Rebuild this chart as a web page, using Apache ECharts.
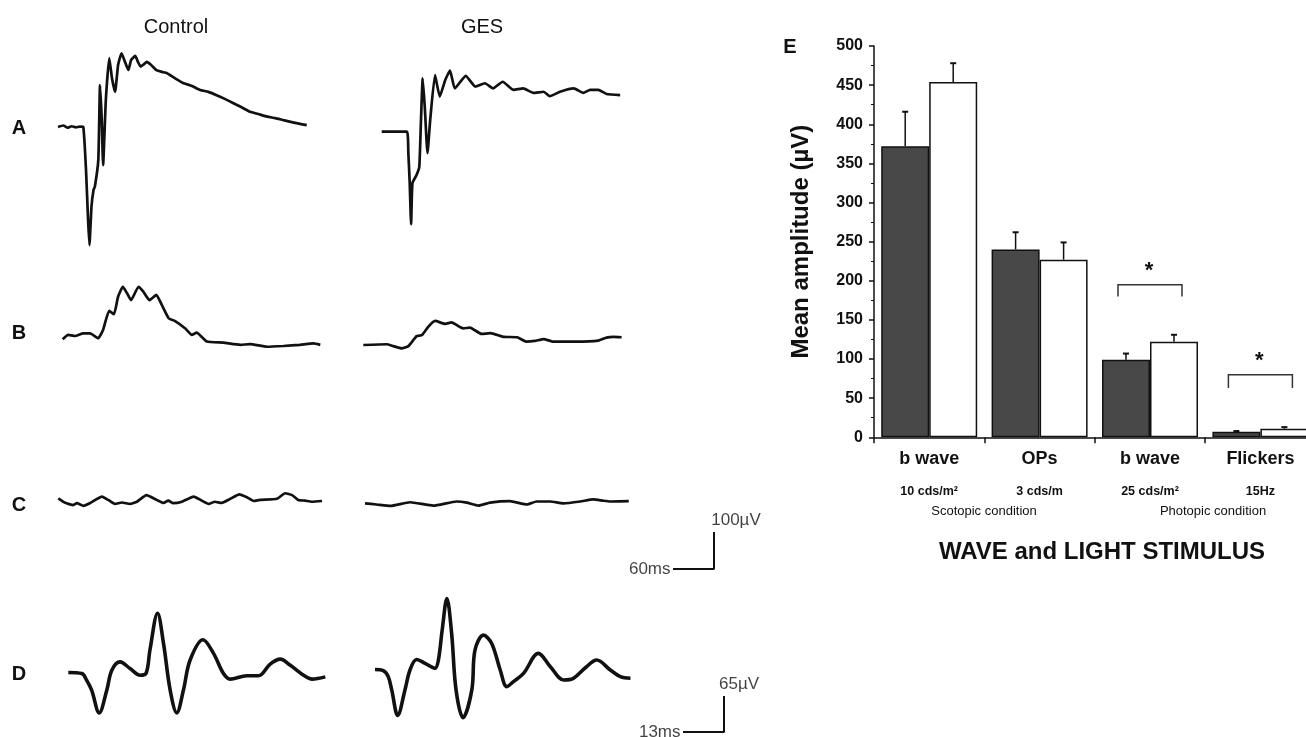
<!DOCTYPE html>
<html>
<head>
<meta charset="utf-8">
<script src="https://cdn.jsdelivr.net/npm/echarts@6/dist/echarts.min.js"></script>
<style>
  html, body { margin: 0; padding: 0; background: #fff; }
  #main { width: 1306px; height: 737px; }
</style>
</head>
<body>
<div id="main"></div>
<script>
// ERG traces: [time (ms) from trace start, amplitude (µV) from baseline]
var ctrlA = [[0,0],[8,4],[14,-2],[20,2],[26,-1],[32,1],[37,0],[41,-116],[44,-251],[46,-319],[49,-215],[52,-170],[54,-161],[59,-89],[61.5,113],[64,20],[66,-103],[70,73],[75,186],[79,132],[83.5,95],[88,168],[93,199],[98,176],[103,154],[107,181],[113,192],[117,176],[121,163],[126,170],[130,176],[136,168],[144,154],[152,149],[159,146],[171,132],[183,119],[196,111],[208,100],[220,95],[232,86],[244,76],[256,65],[268,54],[281,41],[293,35],[306,28],[318,24],[329,19],[347,11],[364,5]];
var gesA = [[0,0],[20,0],[37,0],[39,-58],[41,-139],[43,-250],[45,-139],[51,-117],[55,-95],[57.5,32],[60,144],[63,68],[67,-58],[71,32],[78,153],[85,95],[93,140],[100,165],[107,117],[123,151],[137,122],[151,131],[163,117],[177,135],[193,113],[207,117],[222,105],[237,108],[246,96],[261,108],[281,117],[295,105],[305,113],[317,113],[329,102],[349,99]];
var ctrlB = [[0,-9],[8,3],[18,0],[30,7],[40,7],[52,-6],[59,16],[68,68],[75,59],[81,106],[88,133],[94,116],[100,97],[111,133],[118,120],[127,97],[137,111],[145,84],[155,48],[164,41],[179,21],[189,3],[196,9],[211,-15],[235,-18],[260,-24],[274,-22],[299,-29],[323,-27],[347,-24],[367,-20],[377,-24]];
var gesB = [[0,0],[34,2],[44,-3],[56,-9],[66,-3],[78,24],[86,27],[95,49],[105,65],[120,57],[129,61],[146,45],[156,47],[173,30],[186,32],[205,22],[225,21],[239,9],[251,11],[264,16],[278,9],[312,9],[344,12],[356,20],[366,22],[378,21]];
var ctrlC = [[0,7],[10,-5],[22,-11],[27,-6],[37,-13],[46,-6],[64,12],[73,3],[83,-8],[93,-4],[105,-8],[115,-2],[129,16],[144,3],[154,-5],[161,1],[168,-6],[181,-2],[198,12],[210,1],[220,-8],[229,-2],[239,-5],[251,5],[265,18],[276,10],[286,0],[295,3],[320,6],[332,21],[342,16],[351,3],[361,1],[371,-2],[386,0]];
var gesC = [[0,-1],[17,-4],[37,-8],[66,2],[100,-7],[134,4],[149,1],[166,-7],[183,1],[212,5],[237,-4],[251,4],[271,4],[290,-1],[315,4],[334,10],[349,6],[359,4],[386,5]];
var ctrlD = [[0,1],[4.3,-1],[5.8,-13],[7.4,-31],[9.8,-72],[12.2,-31],[13.8,5],[16.4,20],[19.6,8],[22.8,-4],[24.7,0],[25.9,42],[28.3,108],[30.2,53],[32.3,-31],[34.4,-72],[36.5,-31],[38.6,23],[42.7,60],[46,36],[49.2,-1],[51.3,-11],[56.6,-5],[60.3,-5],[64,16],[67.2,25],[70.4,14],[74.6,-4],[77.3,-11],[81.5,-7]];
var gesD = [[0,1],[2.6,-1],[4.2,-12],[5.3,-36],[7.2,-82],[9.5,-36],[11.1,0],[13.2,19],[15.9,12],[19,3],[20.1,18],[21.3,72],[22.8,129],[24.3,66],[25.7,-36],[27.9,-86],[30.7,-36],[31.7,36],[34.4,63],[37,48],[39.7,0],[41.8,-30],[43.9,-21],[47.1,-6],[51.8,30],[55.6,6],[59.8,-18],[62.9,-15],[66.7,4],[70.3,18],[74.6,0],[77.8,-12],[81,-15]];

// scale bars [ms, µV]
var scaleAC = [60, 100];
var scaleD = [13, 65];

// panel E
var categories = ['b wave', 'OPs', 'b wave', 'Flickers'];
var stimulus = ['10 cds/m²', '3 cds/m', '25 cds/m²', '15Hz'];
var controlMean = [372, 240, 99, 7];
var controlSem = [44, 22, 8, 1];
var gesMean = [454, 227, 122, 11];
var gesSem = [24, 22, 9, 2];
var sigGroups = [2, 3];
var sigTop = [195, 80];
var sigLeg = [180, 63];

var FONT = 'Liberation Sans, Arial, sans-serif';
var INK = '#111';

// px per ms / px per µV
var AC = {kx: 41 / 60, ky: 37 / 100};
var DS = {kx: 41 / 13, ky: 36 / 65};

// grid where the value origin (0,0) lands on pixel (x0, y0)
function makeGrid(x0, y0, s, xmin, xmax, ymin, ymax) {
  return {
    grid: {left: x0 + xmin * s.kx, top: y0 - ymax * s.ky,
           width: (xmax - xmin) * s.kx, height: (ymax - ymin) * s.ky,
           outerBoundsMode: 'none'},
    xmin: xmin, xmax: xmax, ymin: ymin, ymax: ymax
  };
}

var traces = [
  {data: ctrlA, g: makeGrid(58, 127, AC, 0, 400, -350, 250), w: 2.7},
  {data: gesA, g: makeGrid(381.7, 131.7, AC, 0, 400, -350, 250), w: 2.7},
  {data: ctrlB, g: makeGrid(62.7, 336, AC, 0, 400, -120, 160), w: 2.7},
  {data: gesB, g: makeGrid(363.3, 345, AC, 0, 400, -120, 160), w: 2.7},
  {data: ctrlC, g: makeGrid(58.3, 501, AC, 0, 400, -60, 60), w: 2.7},
  {data: gesC, g: makeGrid(365, 503, AC, 0, 400, -60, 60), w: 2.7},
  {data: ctrlD, g: makeGrid(68.3, 673, DS, 0, 90, -100, 140), w: 3.6},
  {data: gesD, g: makeGrid(375, 670, DS, 0, 90, -100, 140), w: 3.6}
];
var bars1 = makeGrid(714, 569, AC, -80, 10, -10, 130);
var bars2 = makeGrid(724, 732, DS, -20, 5, -5, 80);

var grids = [], xAxes = [], yAxes = [], series = [];
function addGrid(g) {
  var i = grids.length;
  grids.push(g.grid);
  xAxes.push({type: 'value', gridIndex: i, min: g.xmin, max: g.xmax, show: false});
  yAxes.push({type: 'value', gridIndex: i, min: g.ymin, max: g.ymax, show: false});
  return i;
}

traces.forEach(function (t) {
  var i = addGrid(t.g);
  series.push({
    type: 'line', xAxisIndex: i, yAxisIndex: i, data: t.data,
    symbol: 'none', smooth: t.w > 3 ? 0.35 : 0.15, clip: false,
    lineStyle: {color: INK, width: t.w}
  });
});

function scaleBar(g, sc, offTop) {
  var i = addGrid(g);
  series.push({
    type: 'line', xAxisIndex: i, yAxisIndex: i, symbol: 'none', clip: false,
    data: [[-sc[0], 0], [0, 0], [0, sc[1]]],
    lineStyle: {color: INK, width: 2}
  });
  series.push({
    type: 'scatter', xAxisIndex: i, yAxisIndex: i, symbolSize: 1,
    itemStyle: {color: 'rgba(0,0,0,0)'},
    label: {show: true, color: INK, fontFamily: FONT, fontSize: 17},
    data: [
      {value: [-sc[0], 0], label: {position: 'left', distance: 2, formatter: sc[0] + 'ms'}},
      {value: [0, sc[1]], label: {position: 'top', distance: 3, offset: [offTop, 0], formatter: sc[1] + 'µV'}}
    ]
  });
}
scaleBar(bars1, scaleAC, 22);
scaleBar(bars2, scaleD, 15);

// panel E bar chart
var bi = grids.length;
grids.push({left: 874, top: 46, width: 441.6, height: 391.3, outerBoundsMode: 'none'});
xAxes.push({
  type: 'category', gridIndex: bi, data: categories,
  axisLine: {lineStyle: {color: INK, width: 1.5}},
  axisTick: {show: true, length: 6, lineStyle: {color: INK, width: 1.5}},
  axisLabel: {
    margin: 10, fontFamily: FONT, color: INK,
    formatter: function (v, i) { return '{a|' + v + '}\n{b|' + stimulus[i] + '}'; },
    rich: {
      a: {fontSize: 18, fontWeight: 'bold', lineHeight: 24, fontFamily: FONT, color: INK},
      b: {fontSize: 12.5, fontWeight: 'bold', lineHeight: 40, fontFamily: FONT, color: INK}
    }
  }
});
yAxes.push({
  type: 'value', gridIndex: bi, min: 0, max: 500, interval: 50,
  name: 'Mean amplitude (µV)', nameLocation: 'middle', nameGap: 61, nameRotate: 90,
  nameTextStyle: {fontFamily: FONT, fontSize: 24, fontWeight: 'bold', color: INK},
  axisLine: {show: true, lineStyle: {color: INK, width: 1.5}},
  axisTick: {show: true, length: 5, lineStyle: {color: INK, width: 1.5}},
  minorTick: {show: true, splitNumber: 2, length: 3, lineStyle: {color: INK, width: 1}},
  splitLine: {show: false},
  axisLabel: {margin: 11, fontFamily: FONT, fontSize: 16, fontWeight: 'bold', color: INK}
});

series.push({
  type: 'bar', xAxisIndex: bi, yAxisIndex: bi, data: controlMean,
  barWidth: 48, barGap: '0%',
  itemStyle: {color: '#484848', borderColor: INK, borderWidth: 1.5}
});
series.push({
  type: 'bar', xAxisIndex: bi, yAxisIndex: bi, data: gesMean,
  barWidth: 48,
  itemStyle: {color: '#fff', borderColor: INK, borderWidth: 1.5}
});

function errorBar(dx) {
  return function (params, api) {
    var base = api.coord([api.value(0), api.value(1)]);
    var top = api.coord([api.value(0), api.value(2)]);
    var x = base[0] + dx;
    return {type: 'group', children: [
      {type: 'line', shape: {x1: x, y1: base[1], x2: x, y2: top[1]}, style: {stroke: INK, lineWidth: 1.5}},
      {type: 'line', shape: {x1: x - 3, y1: top[1], x2: x + 3, y2: top[1]}, style: {stroke: INK, lineWidth: 2}}
    ]};
  };
}
series.push({
  type: 'custom', xAxisIndex: bi, yAxisIndex: bi, z: 1,
  data: controlMean.map(function (v, i) { return [i, v, v + controlSem[i]]; }),
  renderItem: errorBar(-24)
});
series.push({
  type: 'custom', xAxisIndex: bi, yAxisIndex: bi, z: 1,
  data: gesMean.map(function (v, i) { return [i, v, v + gesSem[i]]; }),
  renderItem: errorBar(24)
});
series.push({
  type: 'custom', xAxisIndex: bi, yAxisIndex: bi,
  data: sigGroups.map(function (g, i) { return [g, sigTop[i], sigLeg[i]]; }),
  renderItem: function (params, api) {
    var t = api.coord([api.value(0), api.value(1)]);
    var l = api.coord([api.value(0), api.value(2)]);
    var x = t[0];
    return {type: 'group', children: [
      {type: 'polyline', shape: {points: [[x - 32, l[1]], [x - 32, t[1]], [x + 32, t[1]], [x + 32, l[1]]]},
       style: {stroke: '#333', lineWidth: 1.5, fill: null}},
      {type: 'text', x: x - 1, y: t[1] - 14,
       style: {text: '*', font: 'bold 22px ' + FONT, fill: INK, align: 'center', verticalAlign: 'middle'}}
    ]};
  }
});

function txt(x, y, s, font, align) {
  return {type: 'text', x: x, y: y,
    style: {text: s, font: font, fill: INK, align: align || 'center', verticalAlign: 'middle'}};
}

var chart = echarts.init(document.getElementById('main'));
chart.setOption({
  animation: false,
  grid: grids,
  xAxis: xAxes,
  yAxis: yAxes,
  series: series,
  graphic: [
    txt(176, 27, 'Control', '20px ' + FONT),
    txt(482, 27, 'GES', '20px ' + FONT),
    txt(19, 128, 'A', 'bold 20px ' + FONT),
    txt(19, 333, 'B', 'bold 20px ' + FONT),
    txt(19, 505, 'C', 'bold 20px ' + FONT),
    txt(19, 674, 'D', 'bold 20px ' + FONT),
    txt(790, 47, 'E', 'bold 20px ' + FONT),
    txt(984, 511, 'Scotopic condition', '13px ' + FONT),
    txt(1213, 511, 'Photopic condition', '13px ' + FONT),
    txt(1102, 552, 'WAVE and LIGHT STIMULUS', 'bold 24px ' + FONT)
  ]
});
</script>
</body>
</html>
